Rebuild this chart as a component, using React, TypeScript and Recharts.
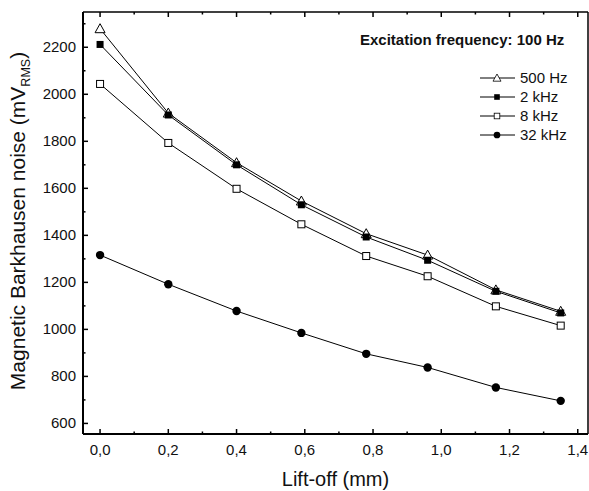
import { LineChart, Line, XAxis, YAxis } from 'recharts';

const liftOff = [0, 0.2, 0.4, 0.59, 0.78, 0.96, 1.16, 1.35];
const hz500 = [2279, 1920, 1709, 1546, 1407, 1316, 1168, 1077];
const khz2 = [2212, 1912, 1700, 1530, 1393, 1294, 1162, 1070];
const khz8 = [2044, 1793, 1598, 1447, 1312, 1226, 1098, 1016];
const khz32 = [1316, 1192, 1078, 985, 896, 838, 753, 696];

const xMajor = [0, 0.2, 0.4, 0.6, 0.8, 1.0, 1.2, 1.4];
const xTicks = [0, 0.1, 0.2, 0.3, 0.4, 0.5, 0.6, 0.7, 0.8, 0.9, 1.0, 1.1, 1.2, 1.3, 1.4];
const yMajor = [600, 800, 1000, 1200, 1400, 1600, 1800, 2000, 2200];
const yTicks = [600, 700, 800, 900, 1000, 1100, 1200, 1300, 1400, 1500, 1600, 1700, 1800, 1900, 2000, 2100, 2200, 2300];

const series = [
  { key: 'hz500', name: '500 Hz', values: hz500, marker: 'triangle' },
  { key: 'khz2', name: '2 kHz', values: khz2, marker: 'square' },
  { key: 'khz8', name: '8 kHz', values: khz8, marker: 'openSquare' },
  { key: 'khz32', name: '32 kHz', values: khz32, marker: 'circle' },
];

const data = liftOff.map((x, i) => ({
  x,
  hz500: hz500[i],
  khz2: khz2[i],
  khz8: khz8[i],
  khz32: khz32[i],
}));

const FONT = 'Arial, "Liberation Sans", sans-serif';

function Marker({ type, cx, cy }: { type: string; cx: number; cy: number }) {
  if (type === 'triangle') {
    const s = 5;
    return (
      <polygon
        points={`${cx},${cy - s} ${cx - s},${cy + s * 0.8} ${cx + s},${cy + s * 0.8}`}
        fill="#fff"
        stroke="#000"
        strokeWidth={1}
      />
    );
  }
  if (type === 'square') {
    return <rect x={cx - 3.5} y={cy - 3.5} width={7} height={7} fill="#000" />;
  }
  if (type === 'openSquare') {
    return <rect x={cx - 3.5} y={cy - 3.5} width={7} height={7} fill="#fff" stroke="#000" strokeWidth={1} />;
  }
  return <circle cx={cx} cy={cy} r={4.2} fill="#000" />;
}

const isMajor = (v: number, majors: number[]) => majors.some((m) => Math.abs(m - v) < 1e-6);

function BottomTick(props: any) {
  const { x, y, payload } = props;
  const major = isMajor(payload.value, xMajor);
  return (
    <g>
      <line x1={x} x2={x} y1={y} y2={y - (major ? 5 : 2.5)} stroke="#000" strokeWidth={1.5} />
      {major && (
        <text x={x} y={y + 21} textAnchor="middle" fontSize={15} fontFamily={FONT} fill="#111">
          {payload.value.toFixed(1).replace('.', ',')}
        </text>
      )}
    </g>
  );
}

function TopTick(props: any) {
  const { x, y, payload } = props;
  const major = isMajor(payload.value, xMajor);
  return <line x1={x} x2={x} y1={y} y2={y + (major ? 5 : 2.5)} stroke="#000" strokeWidth={1.5} />;
}

function LeftTick(props: any) {
  const { x, y, payload } = props;
  const major = isMajor(payload.value, yMajor);
  return (
    <g>
      <line x1={x} x2={x + (major ? 5 : 2.5)} y1={y} y2={y} stroke="#000" strokeWidth={1.5} />
      {major && (
        <text x={x - 7} y={y + 5} textAnchor="end" fontSize={15} fontFamily={FONT} fill="#111">
          {payload.value}
        </text>
      )}
    </g>
  );
}

function RightTick(props: any) {
  const { x, y, payload } = props;
  const major = isMajor(payload.value, yMajor);
  return <line x1={x} x2={x - (major ? 5 : 2.5)} y1={y} y2={y} stroke="#000" strokeWidth={1.5} />;
}

function YTitle() {
  return (
    <text
      transform="translate(25, 221) rotate(-90)"
      textAnchor="middle"
      fontSize={21}
      fontFamily={FONT}
      fill="#111"
    >
      Magnetic Barkhausen noise (mV
      <tspan fontSize={12.5} dy={5}>RMS</tspan>
      <tspan dy={-5}>)</tspan>
    </text>
  );
}

export default function App() {
  return (
    <div style={{ position: 'absolute', left: 0, top: 0, width: 589, height: 491, background: '#fff' }}>
      <LineChart width={589} height={491} data={data} margin={{ top: 0, right: 0, bottom: 0, left: 0 }}>
        <XAxis
          xAxisId="bottom"
          dataKey="x"
          type="number"
          domain={[-0.05, 1.43]}
          ticks={xTicks}
          interval={0}
          height={57}
          tickSize={0}
          tickMargin={0}
          tickLine={false}
          axisLine={{ stroke: '#000', strokeWidth: 2 }}
          tick={<BottomTick />}
          label={{
            value: 'Lift-off (mm)',
            position: 'insideBottom',
            offset: 5,
            fontSize: 20,
            fontFamily: FONT,
            fill: '#111',
          }}
        />
        <XAxis
          xAxisId="top"
          orientation="top"
          dataKey="x"
          type="number"
          domain={[-0.05, 1.43]}
          ticks={xTicks}
          interval={0}
          height={12}
          tickSize={0}
          tickMargin={0}
          tickLine={false}
          axisLine={{ stroke: '#000', strokeWidth: 1.5 }}
          tick={<TopTick />}
        />
        <YAxis
          yAxisId="left"
          type="number"
          domain={[555, 2350]}
          ticks={yTicks}
          interval={0}
          width={83}
          tickSize={0}
          tickMargin={0}
          tickLine={false}
          axisLine={{ stroke: '#000', strokeWidth: 2 }}
          tick={<LeftTick />}
          label={<YTitle />}
        />
        <YAxis
          yAxisId="right"
          orientation="right"
          type="number"
          domain={[555, 2350]}
          ticks={yTicks}
          interval={0}
          width={1}
          tickSize={0}
          tickMargin={0}
          tickLine={false}
          axisLine={{ stroke: '#000', strokeWidth: 1.5 }}
          tick={<RightTick />}
        />
        {series.map((s) => (
          <Line
            key={s.key}
            xAxisId="bottom"
            yAxisId="left"
            dataKey={s.key}
            name={s.name}
            type="linear"
            stroke="#000"
            strokeWidth={1}
            isAnimationActive={false}
            activeDot={false}
            dot={(p: any) => <Marker key={`${s.key}-${p.index}`} type={s.marker} cx={p.cx} cy={p.cy} />}
          />
        ))}
      </LineChart>
      <div
        style={{
          position: 'absolute',
          left: 360,
          top: 31,
          fontFamily: FONT,
          fontWeight: 'bold',
          fontSize: 15,
          color: '#111',
          whiteSpace: 'nowrap',
        }}
      >
        Excitation frequency: 100 Hz
      </div>
      <div style={{ position: 'absolute', left: 479, top: 68, fontFamily: FONT, fontSize: 15, color: '#111' }}>
        {series.map((s) => (
          <div key={s.key} style={{ display: 'flex', alignItems: 'center', height: 19 }}>
            <svg width={37} height={14} style={{ marginRight: 4 }}>
              <line x1={1} x2={36} y1={7} y2={7} stroke="#000" strokeWidth={1} />
              <g transform="translate(18,7) scale(0.8) translate(-18,-7)">
                <Marker type={s.marker} cx={18} cy={7} />
              </g>
            </svg>
            <span>{s.name}</span>
          </div>
        ))}
      </div>
    </div>
  );
}
